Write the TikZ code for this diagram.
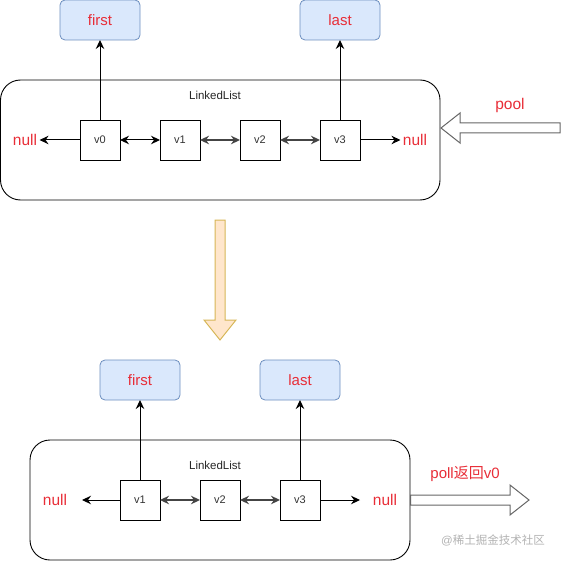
\documentclass[tikz,border=0pt]{standalone}
\usepackage{fontspec}
\setmainfont{Liberation Sans}
\newfontfamily\cjk{Noto Sans CJK SC}
\usetikzlibrary{arrows.meta}
\definecolor{redtxt}{RGB}{232,45,55}
\definecolor{bluefill}{HTML}{DAE8FC}
\definecolor{blueline}{HTML}{6C8EBF}
\definecolor{orfill}{HTML}{FFE6CC}
\definecolor{orline}{HTML}{D6B656}
\definecolor{hollowline}{HTML}{666666}
\definecolor{midgray}{HTML}{444444}
\begin{document}
\begin{tikzpicture}[x=1pt,y=-1pt,
  every node/.style={inner sep=0pt, outer sep=0pt},
  ptr/.style={draw=blueline, fill=bluefill, rounded corners=5pt, line width=0.8pt,
    minimum width=80pt, minimum height=40pt, text=redtxt, font=\fontsize{15}{18}\selectfont},
  vbox/.style={draw=black, line width=0.9pt, minimum width=40pt, minimum height=40pt,
    font=\fontsize{11}{13}\selectfont, text=black!80},
  container/.style={draw=black, line width=0.9pt, rounded corners=20pt},
  redlbl/.style={text=redtxt, font=\fontsize{15.5}{18}\selectfont, inner sep=2.5pt},
  lltxt/.style={font=\fontsize{11.5}{13}\selectfont, text=black!85},
  arr/.style={line width=1pt, -{Stealth[length=9pt,width=8.5pt,inset=3pt]}},
  darr/.style={line width=1pt, {Stealth[length=9pt,width=8.5pt,inset=3pt]}-{Stealth[length=9pt,width=8.5pt,inset=3pt]}},
  grayarr/.style={darr, draw=midgray, fill=midgray, line width=1.3pt},
  hollow/.style={draw=hollowline, fill=white, line width=1pt, line join=miter},
]
\useasboundingbox (0,0) rectangle (561,561);

% ---------- top section ----------
\node[container, minimum width=439.5pt, minimum height=120pt] (ll1) at (220.25,140) {};
\node[lltxt] (llt1) at (215,95) {LinkedList};
\node[ptr] (first1) at (100,20) {first};
\node[ptr] (last1) at (340,20) {last};
\node[vbox] (a0) at (100,140) {v0};
\node[vbox] (a1) at (180,140) {v1};
\node[vbox] (a2) at (260,140) {v2};
\node[vbox] (a3) at (340,140) {v3};
\node[redlbl] (nl1) at (25,140) {null};
\node[redlbl] (nr1) at (415,140) {null};
\node[redlbl] (pool) at (510,105) {pool};

\draw[arr] (a0) -- (first1);
\draw[arr] (a3) -- (last1);
\draw[arr] (a0) -- (nl1);
\draw[arr] (a3) -- (nr1);
\draw[darr] (a0) -- (a1);
\draw[grayarr] (a1) -- (a2);
\draw[grayarr] (a2) -- (a3);

% pool hollow arrow
\draw[hollow] (560,123) -- (460,123) -- (460,113) -- (441,128) -- (460,143) -- (460,133) -- (560,133) -- cycle;

% ---------- transition arrow ----------
\draw[draw=orline, fill=orfill, line width=1pt, line join=miter]
  (215,220) -- (225,220) -- (225,320) -- (236,320) -- (220,340) -- (204,320) -- (215,320) -- cycle;

% ---------- bottom section ----------
\node[container, minimum width=380pt, minimum height=120pt] (ll2) at (220,500) {};
\node[lltxt] (llt2) at (215,465) {LinkedList};
\node[ptr] (first2) at (140,380) {first};
\node[ptr] (last2) at (300,380) {last};
\node[vbox] (b1) at (140,500) {v1};
\node[vbox] (b2) at (220,500) {v2};
\node[vbox] (b3) at (300,500) {v3};
\node[redlbl] (nl2) at (55,500) {null};
\node[redlbl] (nr2) at (385,500) {null};
\node[redlbl, font=\fontsize{15}{18}\selectfont] (poll) at (465,474) {poll{\cjk 返回}v0};
\coordinate (el2) at (82,500);
\coordinate (er2) at (360,500);

\draw[arr] (b1) -- (first2);
\draw[arr] (b3) -- (last2);
\draw[arr] (b1) -- (el2);
\draw[arr] (b3) -- (er2);
\draw[grayarr] (b1) -- (b2);
\draw[grayarr] (b2) -- (b3);

% poll hollow arrow
\draw[hollow] (410.5,495) -- (510,495) -- (510,485) -- (529,500) -- (510,515) -- (510,505) -- (410.5,505) -- cycle;

% watermark
\node[font=\fontsize{11.5}{13}\selectfont, text=black!30] (wm) at (493,540) {@{\cjk 稀土掘金技术社区}};
\end{tikzpicture}
\end{document}
